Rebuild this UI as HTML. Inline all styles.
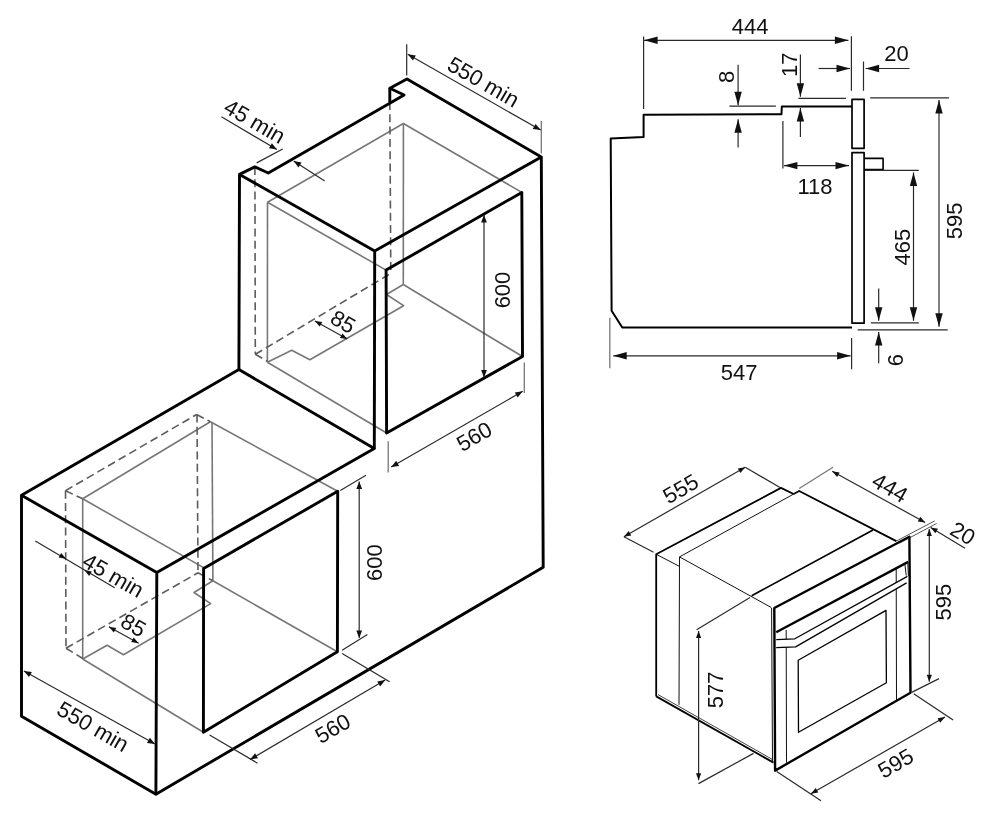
<!DOCTYPE html>
<html><head><meta charset="utf-8"><title>Oven installation dimensions</title>
<style>
html,body{margin:0;padding:0;background:#fff;}
body{width:993px;height:821px;overflow:hidden;font-family:"Liberation Sans",sans-serif;}
svg{display:block;}
svg text{font-family:"Liberation Sans",sans-serif;}
</style></head><body>
<svg style="will-change:transform" width="993" height="821" viewBox="0 0 993 821">
<rect width="993" height="821" fill="#fff"/>
<path d="M267.5,202.3 L403.4,123.5 L521.8,192.4" fill="none" stroke="#777" stroke-width="1.6" stroke-linecap="butt" stroke-linejoin="round"/>
<path d="M267.5,202.3 L386.1,270.1" fill="none" stroke="#777" stroke-width="1.6" stroke-linecap="butt" stroke-linejoin="round"/>
<path d="M267.5,202.3 L267.4,362.3" fill="none" stroke="#777" stroke-width="1.6" stroke-linecap="butt" stroke-linejoin="round"/>
<path d="M403.4,123.5 L403.3,284.5" fill="none" stroke="#777" stroke-width="1.6" stroke-linecap="butt" stroke-linejoin="round"/>
<path d="M403.3,284.5 L522.5,356.5" fill="none" stroke="#777" stroke-width="1.6" stroke-linecap="butt" stroke-linejoin="round"/>
<path d="M267.4,362.3 L386.6,433.0" fill="none" stroke="#777" stroke-width="1.6" stroke-linecap="butt" stroke-linejoin="round"/>
<path d="M267.4,362.3 L291.7,350.2 L309.9,359.7 L403.6,305.7 L386.5,294.5 L403.3,284.5" fill="none" stroke="#777" stroke-width="1.6" stroke-linecap="butt" stroke-linejoin="round"/>
<path d="M82.7,498.8 L210.4,421.8 L337.7,491.3" fill="none" stroke="#777" stroke-width="1.6" stroke-linecap="butt" stroke-linejoin="round"/>
<path d="M82.7,498.8 L203.6,567.6" fill="none" stroke="#777" stroke-width="1.6" stroke-linecap="butt" stroke-linejoin="round"/>
<path d="M82.7,498.8 L82.7,659.0" fill="none" stroke="#777" stroke-width="1.6" stroke-linecap="butt" stroke-linejoin="round"/>
<path d="M212.0,422.0 L212.9,580.8" fill="none" stroke="#777" stroke-width="1.6" stroke-linecap="butt" stroke-linejoin="round"/>
<path d="M212.9,580.8 L337.4,651.8" fill="none" stroke="#777" stroke-width="1.6" stroke-linecap="butt" stroke-linejoin="round"/>
<path d="M82.7,659.0 L203.4,732.2" fill="none" stroke="#777" stroke-width="1.6" stroke-linecap="butt" stroke-linejoin="round"/>
<path d="M82.7,659.0 L107.1,645.2 L123.5,654.8 L210.7,603.6 L194.0,592.5 L212.9,580.8" fill="none" stroke="#777" stroke-width="1.6" stroke-linecap="butt" stroke-linejoin="round"/>
<path d="M254.9,166.9 L255.3,354.3" fill="none" stroke="#5c5c5c" stroke-width="1.6" stroke-linecap="butt" stroke-linejoin="round" stroke-dasharray="8 4.3"/>
<path d="M255.3,354.3 L390.8,273.4" fill="none" stroke="#5c5c5c" stroke-width="1.6" stroke-linecap="butt" stroke-linejoin="round" stroke-dasharray="8 4.3"/>
<path d="M389.8,102.0 L390.8,273.4" fill="none" stroke="#5c5c5c" stroke-width="1.6" stroke-linecap="butt" stroke-linejoin="round" stroke-dasharray="8 4.3"/>
<path d="M255.3,354.3 L267.4,361.3" fill="none" stroke="#5c5c5c" stroke-width="1.6" stroke-linecap="butt" stroke-linejoin="round" stroke-dasharray="8 4.3"/>
<path d="M65.5,490.7 L196.6,414.5" fill="none" stroke="#5c5c5c" stroke-width="1.6" stroke-linecap="butt" stroke-linejoin="round" stroke-dasharray="8 4.3"/>
<path d="M196.6,414.5 L210.0,421.5" fill="none" stroke="#5c5c5c" stroke-width="1.6" stroke-linecap="butt" stroke-linejoin="round" stroke-dasharray="8 4.3"/>
<path d="M65.5,490.7 L66.0,648.2" fill="none" stroke="#5c5c5c" stroke-width="1.6" stroke-linecap="butt" stroke-linejoin="round" stroke-dasharray="8 4.3"/>
<path d="M197.0,414.5 L198.0,572.8" fill="none" stroke="#5c5c5c" stroke-width="1.6" stroke-linecap="butt" stroke-linejoin="round" stroke-dasharray="8 4.3"/>
<path d="M66.0,648.2 L198.0,572.8" fill="none" stroke="#5c5c5c" stroke-width="1.6" stroke-linecap="butt" stroke-linejoin="round" stroke-dasharray="8 4.3"/>
<path d="M65.5,490.7 L82.7,498.8" fill="none" stroke="#5c5c5c" stroke-width="1.6" stroke-linecap="butt" stroke-linejoin="round" stroke-dasharray="8 4.3"/>
<path d="M66.0,648.2 L82.7,658.5" fill="none" stroke="#5c5c5c" stroke-width="1.6" stroke-linecap="butt" stroke-linejoin="round" stroke-dasharray="8 4.3"/>
<path d="M198.0,572.8 L212.9,580.8" fill="none" stroke="#5c5c5c" stroke-width="1.6" stroke-linecap="butt" stroke-linejoin="round" stroke-dasharray="8 4.3"/>
<path d="M239.5,174.4 L254.9,166.9 L268.3,173.0 L404.1,95.0 L389.8,88.3 L407.0,79.0 L541.3,157.0 L543.2,567.3 L155.9,794.2 L21.5,716.3 L21.5,495.3 L238.9,369.5 L239.5,174.4 Z" fill="none" stroke="#000" stroke-width="2.9" stroke-linecap="butt" stroke-linejoin="round"/>
<path d="M389.8,88.3 L389.8,102.0" fill="none" stroke="#000" stroke-width="2.9" stroke-linecap="butt" stroke-linejoin="round"/>
<path d="M239.5,174.4 L374.7,250.9 L541.3,157.0" fill="none" stroke="#000" stroke-width="2.9" stroke-linecap="butt" stroke-linejoin="round"/>
<path d="M374.7,250.9 L374.3,448.5" fill="none" stroke="#000" stroke-width="2.9" stroke-linecap="butt" stroke-linejoin="round"/>
<path d="M238.9,369.5 L374.3,448.5 L156.8,572.6" fill="none" stroke="#000" stroke-width="2.9" stroke-linecap="butt" stroke-linejoin="round"/>
<path d="M21.5,495.3 L156.8,572.6 L155.9,794.2" fill="none" stroke="#000" stroke-width="2.9" stroke-linecap="butt" stroke-linejoin="round"/>
<path d="M386.1,270.1 L521.8,192.4 L522.5,356.5 L386.6,433.0 Z" fill="none" stroke="#000" stroke-width="2.9" stroke-linecap="butt" stroke-linejoin="round"/>
<path d="M203.6,568.4 L337.7,491.3 L337.4,651.8 L203.4,732.2 Z" fill="none" stroke="#000" stroke-width="2.9" stroke-linecap="butt" stroke-linejoin="round"/>
<path d="M406.7,44.2 L406.7,75.5" fill="none" stroke="#2a2a2a" stroke-width="1.2" stroke-linecap="butt" stroke-linejoin="round"/>
<path d="M541.3,121.0 L541.3,153.4" fill="none" stroke="#777" stroke-width="1.3" stroke-linecap="butt" stroke-linejoin="round"/>
<path d="M407.8,54.3 L540.7,130.1" fill="none" stroke="#2a2a2a" stroke-width="1.2" stroke-linecap="butt" stroke-linejoin="round"/>
<path d="M540.7,130.1 L532.7,128.9 L535.6,123.9 Z" fill="#111"/>
<path d="M407.8,54.3 L415.8,55.5 L412.9,60.5 Z" fill="#111"/>
<text x="483.6" y="81.6" transform="rotate(30 483.6 81.6)" font-size="22" text-anchor="middle" dy="0.36em" fill="#111">550 min</text>
<path d="M256.7,162.9 L282.7,149.0" fill="none" stroke="#2a2a2a" stroke-width="1.2" stroke-linecap="butt" stroke-linejoin="round"/>
<path d="M221.4,116.8 L276.9,149.5" fill="none" stroke="#2a2a2a" stroke-width="1.2" stroke-linecap="butt" stroke-linejoin="round"/>
<path d="M276.9,149.5 L269.0,148.2 L271.9,143.2 Z" fill="#111"/>
<path d="M324.7,181.0 L293.7,160.9" fill="none" stroke="#2a2a2a" stroke-width="1.2" stroke-linecap="butt" stroke-linejoin="round"/>
<path d="M293.7,160.9 L301.6,162.5 L298.4,167.4 Z" fill="#111"/>
<text x="254.9" y="121.1" transform="rotate(30 254.9 121.1)" font-size="22" text-anchor="middle" dy="0.36em" fill="#111">45 min</text>
<path d="M314.9,320.9 L347.3,339.1" fill="none" stroke="#2a2a2a" stroke-width="1.2" stroke-linecap="butt" stroke-linejoin="round"/>
<path d="M347.3,339.1 L339.9,337.9 L342.5,333.4 Z" fill="#111"/>
<path d="M314.9,320.9 L322.3,322.1 L319.7,326.6 Z" fill="#111"/>
<text x="343.2" y="321.5" transform="rotate(30 343.2 321.5)" font-size="22" text-anchor="middle" dy="0.36em" fill="#111">85</text>
<path d="M484.0,215.1 L484.0,377.5" fill="none" stroke="#2a2a2a" stroke-width="1.2" stroke-linecap="butt" stroke-linejoin="round"/>
<path d="M484.0,377.5 L481.1,370.0 L486.9,370.0 Z" fill="#111"/>
<path d="M484.0,215.1 L486.9,222.6 L481.1,222.6 Z" fill="#111"/>
<text x="502.1" y="290.0" transform="rotate(-90 502.1 290.0)" font-size="22" text-anchor="middle" dy="0.36em" fill="#111">600</text>
<path d="M388.2,441.2 L388.2,472.6" fill="none" stroke="#777" stroke-width="1.3" stroke-linecap="butt" stroke-linejoin="round"/>
<path d="M524.3,362.4 L524.3,393.1" fill="none" stroke="#777" stroke-width="1.3" stroke-linecap="butt" stroke-linejoin="round"/>
<path d="M391.2,467.1 L522.7,391.3" fill="none" stroke="#2a2a2a" stroke-width="1.2" stroke-linecap="butt" stroke-linejoin="round"/>
<path d="M522.7,391.3 L517.7,397.6 L514.8,392.5 Z" fill="#111"/>
<path d="M391.2,467.1 L396.2,460.8 L399.1,465.9 Z" fill="#111"/>
<text x="474.1" y="436.2" transform="rotate(-30 474.1 436.2)" font-size="22" text-anchor="middle" dy="0.36em" fill="#111">560</text>
<path d="M35.3,541.1 L114.7,587.8" fill="none" stroke="#2a2a2a" stroke-width="1.2" stroke-linecap="butt" stroke-linejoin="round"/>
<path d="M66.0,558.8 L58.6,557.6 L61.2,553.1 Z" fill="#111"/>
<path d="M84.4,570.1 L91.8,571.4 L89.1,575.9 Z" fill="#111"/>
<text x="113.4" y="575.1" transform="rotate(30 113.4 575.1)" font-size="22" text-anchor="middle" dy="0.36em" fill="#111">45 min</text>
<path d="M108.9,626.8 L138.6,643.2" fill="none" stroke="#2a2a2a" stroke-width="1.2" stroke-linecap="butt" stroke-linejoin="round"/>
<path d="M138.6,643.2 L131.2,642.1 L133.7,637.5 Z" fill="#111"/>
<path d="M108.9,626.8 L116.3,627.9 L113.8,632.5 Z" fill="#111"/>
<text x="133.6" y="625.0" transform="rotate(30 133.6 625.0)" font-size="22" text-anchor="middle" dy="0.36em" fill="#111">85</text>
<path d="M23.9,670.9 L155.0,744.0" fill="none" stroke="#2a2a2a" stroke-width="1.2" stroke-linecap="butt" stroke-linejoin="round"/>
<path d="M155.0,744.0 L147.0,742.9 L149.9,737.8 Z" fill="#111"/>
<path d="M23.9,670.9 L31.9,672.0 L29.0,677.1 Z" fill="#111"/>
<text x="93.2" y="726.3" transform="rotate(30 93.2 726.3)" font-size="22" text-anchor="middle" dy="0.36em" fill="#111">550 min</text>
<path d="M340.3,490.4 L366.0,475.3" fill="none" stroke="#2a2a2a" stroke-width="1.2" stroke-linecap="butt" stroke-linejoin="round"/>
<path d="M342.1,650.3 L367.4,634.6" fill="none" stroke="#2a2a2a" stroke-width="1.2" stroke-linecap="butt" stroke-linejoin="round"/>
<path d="M359.2,481.6 L359.2,638.0" fill="none" stroke="#2a2a2a" stroke-width="1.2" stroke-linecap="butt" stroke-linejoin="round"/>
<path d="M359.2,638.0 L356.3,630.5 L362.1,630.5 Z" fill="#111"/>
<path d="M359.2,481.6 L362.1,489.1 L356.3,489.1 Z" fill="#111"/>
<text x="373.8" y="562.7" transform="rotate(-90 373.8 562.7)" font-size="22" text-anchor="middle" dy="0.36em" fill="#111">600</text>
<path d="M209.6,735.0 L257.5,763.2" fill="none" stroke="#2a2a2a" stroke-width="1.2" stroke-linecap="butt" stroke-linejoin="round"/>
<path d="M342.1,653.4 L389.6,681.7" fill="none" stroke="#2a2a2a" stroke-width="1.2" stroke-linecap="butt" stroke-linejoin="round"/>
<path d="M250.1,759.5 L385.2,680.1" fill="none" stroke="#2a2a2a" stroke-width="1.2" stroke-linecap="butt" stroke-linejoin="round"/>
<path d="M385.2,680.1 L380.2,686.4 L377.3,681.4 Z" fill="#111"/>
<path d="M250.1,759.5 L255.1,753.2 L258.0,758.2 Z" fill="#111"/>
<text x="332.6" y="728.2" transform="rotate(-30 332.6 728.2)" font-size="22" text-anchor="middle" dy="0.36em" fill="#111">560</text>
<path d="M852.0,327.5 L622.3,327.5 L611.6,310.7 L610.7,138.5 L643.6,137.0 L643.6,114.8 L781.5,114.2 L781.8,106.6 L852.0,106.6" fill="none" stroke="#000" stroke-width="2" stroke-linecap="butt" stroke-linejoin="round"/>
<path d="M852.0,99.4 L864.1,99.4 L864.1,148.3 L852.0,148.3 Z" fill="none" stroke="#000" stroke-width="1.7" stroke-linecap="butt" stroke-linejoin="round"/>
<path d="M852.0,323.2 L852.0,152.6 L864.1,152.6 L864.1,323.2 L852.0,323.2 Z" fill="none" stroke="#000" stroke-width="1.7" stroke-linecap="butt" stroke-linejoin="round"/>
<path d="M864.4,158.4 L883.1,158.4 L883.1,169.6 L864.4,169.6" fill="none" stroke="#000" stroke-width="1.6" stroke-linecap="butt" stroke-linejoin="round"/>
<path d="M643.6,36.4 L643.6,109.0" fill="none" stroke="#2a2a2a" stroke-width="1.2" stroke-linecap="butt" stroke-linejoin="round"/>
<path d="M851.4,36.2 L851.4,90.8" fill="none" stroke="#2a2a2a" stroke-width="1.2" stroke-linecap="butt" stroke-linejoin="round"/>
<path d="M644.1,40.3 L848.4,40.3" fill="none" stroke="#2a2a2a" stroke-width="1.2" stroke-linecap="butt" stroke-linejoin="round"/>
<path d="M848.4,40.3 L834.9,44.0 L834.9,36.6 Z" fill="#111"/>
<path d="M644.1,40.3 L657.6,36.6 L657.6,44.0 Z" fill="#111"/>
<text x="750.1" y="25.8" transform="rotate(0 750.1 25.8)" font-size="22" text-anchor="middle" dy="0.36em" fill="#111">444</text>
<path d="M863.5,61.5 L863.5,90.8" fill="none" stroke="#2a2a2a" stroke-width="1.2" stroke-linecap="butt" stroke-linejoin="round"/>
<path d="M818.6,68.5 L850.0,68.5" fill="none" stroke="#2a2a2a" stroke-width="1.2" stroke-linecap="butt" stroke-linejoin="round"/>
<path d="M850.0,68.5 L836.5,72.2 L836.5,64.8 Z" fill="#111"/>
<path d="M909.6,68.5 L865.6,68.5" fill="none" stroke="#2a2a2a" stroke-width="1.2" stroke-linecap="butt" stroke-linejoin="round"/>
<path d="M865.6,68.5 L879.1,64.8 L879.1,72.2 Z" fill="#111"/>
<text x="896.5" y="53.0" transform="rotate(0 896.5 53.0)" font-size="22" text-anchor="middle" dy="0.36em" fill="#111">20</text>
<path d="M729.4,106.2 L775.9,106.2" fill="none" stroke="#2a2a2a" stroke-width="1.2" stroke-linecap="butt" stroke-linejoin="round"/>
<path d="M738.1,64.7 L738.1,105.2" fill="none" stroke="#2a2a2a" stroke-width="1.2" stroke-linecap="butt" stroke-linejoin="round"/>
<path d="M738.1,105.2 L734.4,91.7 L741.8,91.7 Z" fill="#111"/>
<path d="M738.1,147.6 L738.1,119.3" fill="none" stroke="#2a2a2a" stroke-width="1.2" stroke-linecap="butt" stroke-linejoin="round"/>
<path d="M738.1,119.3 L741.8,132.8 L734.4,132.8 Z" fill="#111"/>
<text x="725.8" y="76.8" transform="rotate(-90 725.8 76.8)" font-size="22" text-anchor="middle" dy="0.36em" fill="#111">8</text>
<path d="M798.4,98.3 L845.9,98.3" fill="none" stroke="#2a2a2a" stroke-width="1.2" stroke-linecap="butt" stroke-linejoin="round"/>
<path d="M800.4,54.4 L800.4,96.8" fill="none" stroke="#2a2a2a" stroke-width="1.2" stroke-linecap="butt" stroke-linejoin="round"/>
<path d="M800.4,96.8 L796.7,83.3 L804.1,83.3 Z" fill="#111"/>
<path d="M800.4,136.9 L800.4,108.0" fill="none" stroke="#2a2a2a" stroke-width="1.2" stroke-linecap="butt" stroke-linejoin="round"/>
<path d="M800.4,108.0 L804.1,121.5 L796.7,121.5 Z" fill="#111"/>
<text x="789.1" y="64.7" transform="rotate(-90 789.1 64.7)" font-size="22" text-anchor="middle" dy="0.36em" fill="#111">17</text>
<path d="M782.9,121.1 L782.9,168.6" fill="none" stroke="#2a2a2a" stroke-width="1.2" stroke-linecap="butt" stroke-linejoin="round"/>
<path d="M783.9,165.6 L849.0,165.6" fill="none" stroke="#2a2a2a" stroke-width="1.2" stroke-linecap="butt" stroke-linejoin="round"/>
<path d="M849.0,165.6 L835.5,169.3 L835.5,161.9 Z" fill="#111"/>
<path d="M783.9,165.6 L797.4,161.9 L797.4,169.3 Z" fill="#111"/>
<text x="815.0" y="186.2" transform="rotate(0 815.0 186.2)" font-size="22" text-anchor="middle" dy="0.36em" fill="#111">118</text>
<path d="M870.2,97.9 L949.1,97.9" fill="none" stroke="#2a2a2a" stroke-width="1.2" stroke-linecap="butt" stroke-linejoin="round"/>
<path d="M857.7,329.9 L947.7,329.9" fill="none" stroke="#2a2a2a" stroke-width="1.2" stroke-linecap="butt" stroke-linejoin="round"/>
<path d="M939.0,99.9 L939.0,326.8" fill="none" stroke="#2a2a2a" stroke-width="1.2" stroke-linecap="butt" stroke-linejoin="round"/>
<path d="M939.0,326.8 L935.3,313.3 L942.7,313.3 Z" fill="#111"/>
<path d="M939.0,99.9 L942.7,113.4 L935.3,113.4 Z" fill="#111"/>
<text x="954.2" y="220.8" transform="rotate(-90 954.2 220.8)" font-size="22" text-anchor="middle" dy="0.36em" fill="#111">595</text>
<path d="M864.8,170.4 L918.8,170.4" fill="none" stroke="#2a2a2a" stroke-width="1.2" stroke-linecap="butt" stroke-linejoin="round"/>
<path d="M870.9,322.8 L918.8,322.8" fill="none" stroke="#2a2a2a" stroke-width="1.2" stroke-linecap="butt" stroke-linejoin="round"/>
<path d="M913.5,172.4 L913.5,320.8" fill="none" stroke="#2a2a2a" stroke-width="1.2" stroke-linecap="butt" stroke-linejoin="round"/>
<path d="M913.5,320.8 L909.8,307.3 L917.2,307.3 Z" fill="#111"/>
<path d="M913.5,172.4 L917.2,185.9 L909.8,185.9 Z" fill="#111"/>
<text x="901.6" y="247.1" transform="rotate(-90 901.6 247.1)" font-size="22" text-anchor="middle" dy="0.36em" fill="#111">465</text>
<path d="M878.7,288.6 L878.7,320.8" fill="none" stroke="#2a2a2a" stroke-width="1.2" stroke-linecap="butt" stroke-linejoin="round"/>
<path d="M878.7,320.8 L875.0,307.3 L882.4,307.3 Z" fill="#111"/>
<path d="M878.7,363.2 L878.7,331.9" fill="none" stroke="#2a2a2a" stroke-width="1.2" stroke-linecap="butt" stroke-linejoin="round"/>
<path d="M878.7,331.9 L882.4,345.4 L875.0,345.4 Z" fill="#111"/>
<text x="895.1" y="360.2" transform="rotate(-90 895.1 360.2)" font-size="22" text-anchor="middle" dy="0.36em" fill="#111">6</text>
<path d="M609.8,317.7 L609.8,368.3" fill="none" stroke="#777" stroke-width="1.3" stroke-linecap="butt" stroke-linejoin="round"/>
<path d="M851.6,338.0 L851.6,369.3" fill="none" stroke="#2a2a2a" stroke-width="1.2" stroke-linecap="butt" stroke-linejoin="round"/>
<path d="M613.2,355.8 L850.6,355.8" fill="none" stroke="#2a2a2a" stroke-width="1.2" stroke-linecap="butt" stroke-linejoin="round"/>
<path d="M850.6,355.8 L837.1,359.5 L837.1,352.1 Z" fill="#111"/>
<path d="M613.2,355.8 L626.7,352.1 L626.7,359.5 Z" fill="#111"/>
<text x="739.1" y="371.7" transform="rotate(0 739.1 371.7)" font-size="22" text-anchor="middle" dy="0.36em" fill="#111">547</text>
<path d="M656.2,696.4 L656.2,554.3 L781.0,487.9 L793.6,494.0" fill="none" stroke="#000" stroke-width="1.8" stroke-linecap="butt" stroke-linejoin="round"/>
<path d="M793.6,494.0 L799.2,491.0 L896.3,541.1" fill="none" stroke="#000" stroke-width="1.8" stroke-linecap="butt" stroke-linejoin="round"/>
<path d="M679.5,556.9 L799.2,491.0" fill="none" stroke="#111" stroke-width="1.0" stroke-linecap="butt" stroke-linejoin="round"/>
<path d="M656.2,554.3 L679.5,566.4" fill="none" stroke="#111" stroke-width="1.0" stroke-linecap="butt" stroke-linejoin="round"/>
<path d="M679.5,556.9 L771.3,607.5" fill="none" stroke="#111" stroke-width="1.0" stroke-linecap="butt" stroke-linejoin="round"/>
<path d="M751.7,595.7 L873.0,530.0" fill="none" stroke="#000" stroke-width="1.7" stroke-linecap="butt" stroke-linejoin="round"/>
<path d="M679.5,556.9 L679.0,704.9" fill="none" stroke="#111" stroke-width="1.0" stroke-linecap="butt" stroke-linejoin="round"/>
<path d="M656.2,696.4 L773.5,762.6" fill="none" stroke="#000" stroke-width="1.8" stroke-linecap="butt" stroke-linejoin="round"/>
<path d="M658.0,694.6 L772.5,759.5" fill="none" stroke="#111" stroke-width="0.8" stroke-linecap="butt" stroke-linejoin="round"/>
<path d="M771.6,608.0 L772.5,762.0" fill="none" stroke="#111" stroke-width="1.0" stroke-linecap="butt" stroke-linejoin="round"/>
<path d="M774.3,608.0 L909.4,536.7 L910.5,692.8 L775.1,770.6 Z" fill="none" stroke="#000" stroke-width="2.4" stroke-linecap="butt" stroke-linejoin="round"/>
<path d="M776.2,632.3 L908.2,561.9" fill="none" stroke="#000" stroke-width="2.4" stroke-linecap="butt" stroke-linejoin="round"/>
<path d="M786.2,629.9 L786.5,762.6" fill="none" stroke="#111" stroke-width="1.0" stroke-linecap="butt" stroke-linejoin="round"/>
<path d="M896.2,567.5 L896.5,699.9" fill="none" stroke="#111" stroke-width="1.0" stroke-linecap="butt" stroke-linejoin="round"/>
<path d="M776.2,639.6 L794.8,638.8 L907.4,576.4 L906.6,582.9 L795.6,646.9 L776.2,647.7 Z" fill="#fff"/>
<path d="M776.2,639.6 L794.8,638.8 L907.4,576.4" fill="none" stroke="#000" stroke-width="1.3" stroke-linecap="butt" stroke-linejoin="round"/>
<path d="M776.2,647.7 L795.6,646.9 L906.6,582.9" fill="none" stroke="#000" stroke-width="1.3" stroke-linecap="butt" stroke-linejoin="round"/>
<path d="M904.8,563.5 L906.2,575.5" fill="none" stroke="#111" stroke-width="1" stroke-linecap="butt" stroke-linejoin="round"/>
<path d="M907.8,563.0 L908.4,576.0" fill="none" stroke="#111" stroke-width="1" stroke-linecap="butt" stroke-linejoin="round"/>
<path d="M798.2,660.2 L886.0,610.4 L886.4,682.7 L798.5,732.2 Z" fill="none" stroke="#000" stroke-width="1.3" stroke-linecap="butt" stroke-linejoin="round"/>
<path d="M623.9,536.7 L653.6,552.2" fill="none" stroke="#2a2a2a" stroke-width="1.2" stroke-linecap="butt" stroke-linejoin="round"/>
<path d="M745.2,467.3 L780.0,487.5" fill="none" stroke="#2a2a2a" stroke-width="1.2" stroke-linecap="butt" stroke-linejoin="round"/>
<path d="M623.9,536.7 L745.2,467.3" fill="none" stroke="#2a2a2a" stroke-width="1.2" stroke-linecap="butt" stroke-linejoin="round"/>
<path d="M745.2,467.3 L740.4,473.0 L737.8,468.5 Z" fill="#111"/>
<path d="M623.9,536.7 L628.7,531.0 L631.3,535.5 Z" fill="#111"/>
<text x="680.5" y="488.5" transform="rotate(-30 680.5 488.5)" font-size="22" text-anchor="middle" dy="0.36em" fill="#111">555</text>
<path d="M799.2,488.5 L833.0,467.3" fill="none" stroke="#777" stroke-width="1.3" stroke-linecap="butt" stroke-linejoin="round"/>
<path d="M832.2,471.3 L925.2,522.5" fill="none" stroke="#2a2a2a" stroke-width="1.2" stroke-linecap="butt" stroke-linejoin="round"/>
<path d="M925.2,522.5 L917.8,521.4 L920.3,516.8 Z" fill="#111"/>
<path d="M832.2,471.3 L839.6,472.4 L837.1,477.0 Z" fill="#111"/>
<text x="890.2" y="487.5" transform="rotate(30 890.2 487.5)" font-size="22" text-anchor="middle" dy="0.36em" fill="#111">444</text>
<path d="M896.3,541.1 L934.7,520.9" fill="none" stroke="#2a2a2a" stroke-width="0.8" stroke-linecap="butt" stroke-linejoin="round"/>
<path d="M899.5,543.2 L936.5,523.5" fill="none" stroke="#2a2a2a" stroke-width="0.8" stroke-linecap="butt" stroke-linejoin="round"/>
<path d="M965.0,548.2 L930.7,527.4" fill="none" stroke="#2a2a2a" stroke-width="1.2" stroke-linecap="butt" stroke-linejoin="round"/>
<path d="M930.7,527.4 L938.0,528.8 L935.3,533.3 Z" fill="#111"/>
<text x="963.0" y="533.0" transform="rotate(30 963.0 533.0)" font-size="22" text-anchor="middle" dy="0.36em" fill="#111">20</text>
<path d="M929.3,529.0 L929.3,681.7" fill="none" stroke="#2a2a2a" stroke-width="1.2" stroke-linecap="butt" stroke-linejoin="round"/>
<path d="M929.3,681.7 L926.7,674.7 L931.9,674.7 Z" fill="#111"/>
<path d="M929.3,529.0 L931.9,536.0 L926.7,536.0 Z" fill="#111"/>
<text x="943.5" y="602.2" transform="rotate(-90 943.5 602.2)" font-size="22" text-anchor="middle" dy="0.36em" fill="#111">595</text>
<path d="M911.7,692.4 L939.0,678.6" fill="none" stroke="#2a2a2a" stroke-width="1.2" stroke-linecap="butt" stroke-linejoin="round"/>
<path d="M776.7,771.5 L821.0,800.7" fill="none" stroke="#2a2a2a" stroke-width="1.2" stroke-linecap="butt" stroke-linejoin="round"/>
<path d="M913.7,693.8 L953.1,720.1" fill="none" stroke="#2a2a2a" stroke-width="1.2" stroke-linecap="butt" stroke-linejoin="round"/>
<path d="M810.9,793.7 L945.0,717.1" fill="none" stroke="#2a2a2a" stroke-width="1.2" stroke-linecap="butt" stroke-linejoin="round"/>
<path d="M945.0,717.1 L940.2,722.8 L937.6,718.3 Z" fill="#111"/>
<path d="M810.9,793.7 L815.7,788.0 L818.3,792.5 Z" fill="#111"/>
<text x="895.5" y="763.0" transform="rotate(-30 895.5 763.0)" font-size="22" text-anchor="middle" dy="0.36em" fill="#111">595</text>
<path d="M696.6,629.7 L750.0,597.5" fill="none" stroke="#2a2a2a" stroke-width="1.2" stroke-linecap="butt" stroke-linejoin="round"/>
<path d="M698.5,783.6 L753.5,753.4" fill="none" stroke="#2a2a2a" stroke-width="1.2" stroke-linecap="butt" stroke-linejoin="round"/>
<path d="M698.6,631.1 L698.6,780.2" fill="none" stroke="#2a2a2a" stroke-width="1.2" stroke-linecap="butt" stroke-linejoin="round"/>
<path d="M698.6,780.2 L696.0,773.2 L701.2,773.2 Z" fill="#111"/>
<path d="M698.6,631.1 L701.2,638.1 L696.0,638.1 Z" fill="#111"/>
<text x="714.8" y="689.8" transform="rotate(-90 714.8 689.8)" font-size="22" text-anchor="middle" dy="0.36em" fill="#111">577</text>
</svg>
</body></html>
